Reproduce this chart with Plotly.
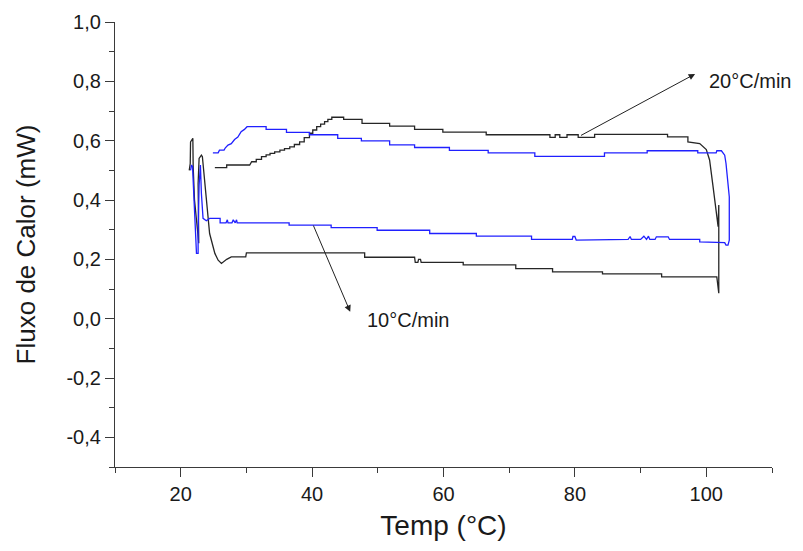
import plotly.graph_objects as go

# DSC heat-flow loops (heating upper branch, cooling lower branch)
temp_20 = [25.2, 27.0, 27.0, 30.5, 30.8, 31.5, 31.5, 32.3, 32.3, 33.0, 33.0, 33.6, 33.6, 34.3, 34.3,
           35.1, 35.1, 35.8, 35.8, 36.6, 36.6, 37.3, 37.3, 38.1, 38.1, 38.8, 38.8, 39.6, 39.6, 40.1,
           40.1, 40.7, 40.7, 41.3, 41.3, 41.9, 41.9, 42.4, 42.4, 43.0, 43.0, 44.8, 44.8, 47.6, 47.6,
           51.8, 51.8, 55.6, 55.6, 59.9, 59.9, 66.5, 66.5, 76.2, 76.2, 77.0, 77.0, 77.7, 77.7, 78.8,
           78.8, 80.5, 80.5, 83.0, 83.0, 94.1, 94.1, 97.2, 97.2, 99.0, 100.0, 100.5, 101.0, 101.3,
           101.8, 101.9, 101.9, 101.6,
           93.2, 93.2, 84.2, 84.2, 76.6, 76.6, 71.0, 71.0, 63.0, 63.0, 56.6, 56.5, 56.2, 56.1, 55.7,
           55.6, 48.0, 48.0, 30.0, 29.9, 27.7, 27.0, 26.2, 25.7, 25.2, 24.4, 23.9, 23.4, 23.3, 23.15,
           22.8, 22.65, 22.65, 22.75, 22.55, 22.1, 21.9, 21.8, 21.85, 21.5, 21.45, 21.3]
flux_20 = [0.509, 0.509, 0.518, 0.518, 0.529, 0.529, 0.537, 0.537, 0.546, 0.546, 0.552, 0.552, 0.557,
           0.557, 0.562, 0.562, 0.568, 0.568, 0.573, 0.573, 0.579, 0.579, 0.587, 0.587, 0.596, 0.596,
           0.610, 0.610, 0.625, 0.625, 0.636, 0.636, 0.647, 0.647, 0.656, 0.656, 0.664, 0.664, 0.672,
           0.672, 0.679, 0.679, 0.672, 0.672, 0.658, 0.658, 0.649, 0.649, 0.638, 0.638, 0.629, 0.629,
           0.620, 0.620, 0.611, 0.611, 0.620, 0.620, 0.611, 0.611, 0.620, 0.620, 0.611, 0.611, 0.621,
           0.621, 0.613, 0.613, 0.596, 0.590, 0.570, 0.535, 0.450, 0.400, 0.310, 0.383, 0.086, 0.141,
           0.141, 0.151, 0.151, 0.158, 0.158, 0.169, 0.169, 0.181, 0.181, 0.190, 0.190, 0.200, 0.200,
           0.190, 0.190, 0.207, 0.207, 0.222, 0.222, 0.208, 0.208, 0.200, 0.186, 0.197, 0.220, 0.287,
           0.400, 0.512, 0.546, 0.551, 0.540, 0.456, 0.310, 0.254, 0.300, 0.400, 0.512, 0.590, 0.608,
           0.596, 0.523, 0.500]

temp_10 = [24.9, 25.7, 25.9, 26.6, 26.8, 27.2, 27.7, 28.2, 28.7, 29.2, 29.7, 30.1, 33.0, 33.0, 36.1,
           36.1, 39.6, 39.6, 43.9, 43.9, 47.5, 47.5, 51.8, 51.8, 55.6, 55.6, 60.9, 60.9, 66.8, 66.8,
           73.9, 73.9, 84.5, 84.5, 91.0, 91.0, 98.7, 98.7, 101.5, 101.6, 102.3, 102.8, 103.0, 103.3,
           103.5, 103.5, 103.3, 103.0, 102.8,
           99.0, 99.0, 94.4, 94.2, 92.4, 92.2, 91.4, 91.2, 90.9, 90.5, 90.0, 88.6, 88.4, 88.1, 80.2,
           80.0, 79.7, 79.6, 73.4, 73.4, 65.0, 65.0, 57.9, 57.9, 49.9, 49.9, 42.9, 42.9, 36.5, 36.5,
           28.6, 28.5, 28.3, 28.0, 27.8, 27.2, 27.1, 26.9, 26.0, 26.0, 24.4, 23.9, 23.4, 23.15, 23.0,
           22.8, 22.65, 22.65, 22.4, 22.3, 22.0, 21.9, 21.8, 21.65, 21.5]
flux_10 = [0.559, 0.559, 0.568, 0.568, 0.576, 0.585, 0.590, 0.604, 0.612, 0.630, 0.638, 0.647, 0.647,
           0.638, 0.638, 0.628, 0.628, 0.620, 0.620, 0.608, 0.608, 0.599, 0.599, 0.586, 0.586, 0.577,
           0.577, 0.567, 0.567, 0.559, 0.559, 0.547, 0.547, 0.559, 0.559, 0.566, 0.566, 0.559, 0.559,
           0.566, 0.566, 0.551, 0.523, 0.467, 0.410, 0.265, 0.248, 0.248, 0.256,
           0.259, 0.267, 0.267, 0.276, 0.276, 0.267, 0.267, 0.278, 0.267, 0.278, 0.267, 0.267, 0.277,
           0.267, 0.265, 0.277, 0.277, 0.267, 0.267, 0.278, 0.278, 0.287, 0.287, 0.298, 0.298, 0.307,
           0.307, 0.315, 0.315, 0.323, 0.323, 0.333, 0.323, 0.333, 0.323, 0.323, 0.333, 0.323, 0.323,
           0.338, 0.338, 0.330, 0.338, 0.422, 0.518, 0.450, 0.287, 0.220, 0.220, 0.276, 0.400, 0.456,
           0.512, 0.518, 0.500]

y_ticks = [-0.4, -0.2, 0.0, 0.2, 0.4, 0.6, 0.8, 1.0]
y_tick_text = ["-0,4", "-0,2", "0,0", "0,2", "0,4", "0,6", "0,8", "1,0"]
x_ticks = [20, 40, 60, 80, 100]

FONT = "Liberation Sans, Arial, sans-serif"
AXIS_COLOR = "#3a3a3a"

fig = go.Figure()
fig.add_trace(go.Scatter(x=temp_20, y=flux_20, mode="lines", name="20°C/min",
                         line=dict(color="#262626", width=1.3)))
fig.add_trace(go.Scatter(x=temp_10, y=flux_10, mode="lines", name="10°C/min",
                         line=dict(color="#2020ff", width=1.3)))

# arrows from the curves to their labels
fig.add_annotation(x=98.3, y=0.825, ax=80.7, ay=0.615, xref="x", yref="y", axref="x", ayref="y",
                   text="", showarrow=True, arrowhead=2, arrowsize=1.3, arrowwidth=1,
                   arrowcolor="#222222", standoff=0, startstandoff=0)
fig.add_annotation(x=106.6, y=0.80, xref="x", yref="y", text="20°C/min", showarrow=False,
                   font=dict(family=FONT, size=20, color="#1a1a1a"))
fig.add_annotation(x=45.8, y=0.023, ax=40.1, ay=0.319, xref="x", yref="y", axref="x", ayref="y",
                   text="", showarrow=True, arrowhead=2, arrowsize=1.3, arrowwidth=1,
                   arrowcolor="#222222", standoff=0, startstandoff=0)
fig.add_annotation(x=54.6, y=-0.005, xref="x", yref="y", text="10°C/min", showarrow=False,
                   font=dict(family=FONT, size=20, color="#1a1a1a"))

fig.update_layout(
    width=803, height=551,
    margin=dict(l=115, r=31, t=22, b=84),
    paper_bgcolor="white", plot_bgcolor="white",
    showlegend=False,
    font=dict(family=FONT, color="#1a1a1a"),
)
fig.update_xaxes(
    range=[10, 110], tickvals=x_ticks, ticks="outside", ticklen=9, tickwidth=1.3,
    tickcolor=AXIS_COLOR, showline=True, linecolor=AXIS_COLOR, linewidth=1.3,
    showgrid=False, zeroline=False, tickfont=dict(size=20),
    minor=dict(dtick=10, tick0=0, ticks="outside", ticklen=5, tickcolor=AXIS_COLOR, showgrid=False),
    title=dict(text="Temp (°C)", font=dict(size=28), standoff=11),
)
fig.update_yaxes(
    range=[-0.5, 1.0], tickvals=y_ticks, ticktext=y_tick_text, ticks="outside", ticklen=9,
    tickwidth=1.3, tickcolor=AXIS_COLOR, showline=True, linecolor=AXIS_COLOR, linewidth=1.3,
    showgrid=False, zeroline=False, tickfont=dict(size=20),
    minor=dict(dtick=0.1, tick0=0, ticks="outside", ticklen=5, tickcolor=AXIS_COLOR, showgrid=False),
    title=dict(text="Fluxo de Calor (mW)", font=dict(size=26), standoff=23),
)

fig.write_html("out.html")
